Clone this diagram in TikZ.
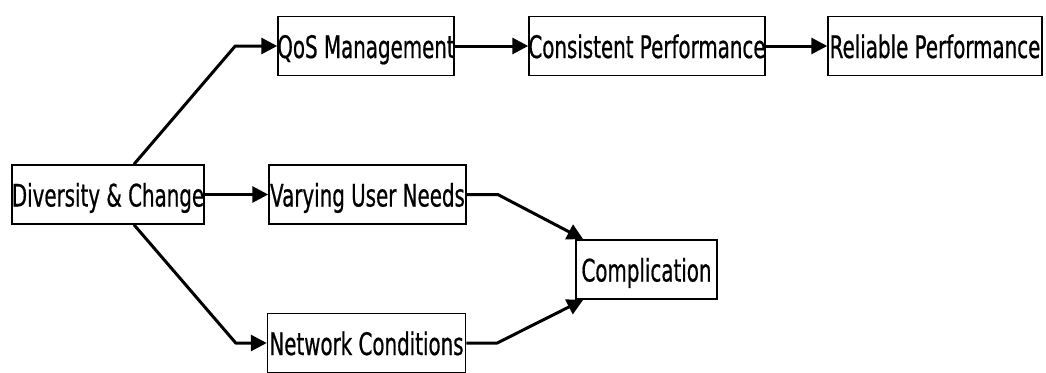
\documentclass[tikz,border=0pt]{standalone}
\usepackage{fontspec}
\setmainfont{DejaVu Sans}[FakeStretch=0.64, FakeBold=0.6]
\usetikzlibrary{arrows.meta}
\usetikzlibrary{positioning}
% labels may run past their box, the box keeps its width
\newcommand{\boxlbl}[1]{\makebox[0pt]{#1}}
\tikzset{
  box/.style={draw, line width=1.5pt, inner xsep=0pt, minimum height=59pt,
    text height=24pt, text depth=0pt, font=\fontsize{31}{37}\selectfont},
  flow/.style={-{Triangle[length=16pt,width=16pt]}, line width=3pt, line join=round}
}

\begin{document}
\begin{tikzpicture}[x=1pt, y=-1pt]
  \useasboundingbox (0,0) rectangle (1046,372);

  \node[box, minimum width=192pt] (div) at (108,194.5) {\boxlbl{Diversity \& Change}};
  \node[box, minimum width=176pt] (qos) at (366,46) {\boxlbl{QoS Management}};
  \node[box, minimum width=236pt, right=73.5pt of qos] (cons) {\boxlbl{Consistent Performance}};
  \node[box, minimum width=214pt, right=61.5pt of cons] (rel) {\boxlbl{Reliable Performance}};
  \node[box, minimum width=197pt, right=63.5pt of div] (var) {\boxlbl{Varying User Needs}};
  \node[box, minimum width=198pt] (net) at (366.5,343) {\boxlbl{Network Conditions}};
  \node[box, minimum width=141pt] (comp) at (646.5,269.5) {\boxlbl{Complication}};

  \draw[flow] ([xshift=26pt]div.north) -- ([xshift=-42pt]qos.west) -- (qos.west);
  \draw[flow] (div) -- (var);
  \draw[flow] ([xshift=26pt]div.south) -- ([xshift=-31pt]net.west) -- (net.west);
  \draw[flow] (qos) -- (cons);
  \draw[flow] (cons) -- (rel);
  \draw[flow] (var.east) -- ([xshift=31pt]var.east) -- ([xshift=8pt]comp.north west);
  \draw[flow] (net.east) -- ([xshift=31pt]net.east) -- ([xshift=8pt]comp.south west);
\end{tikzpicture}
\end{document}
